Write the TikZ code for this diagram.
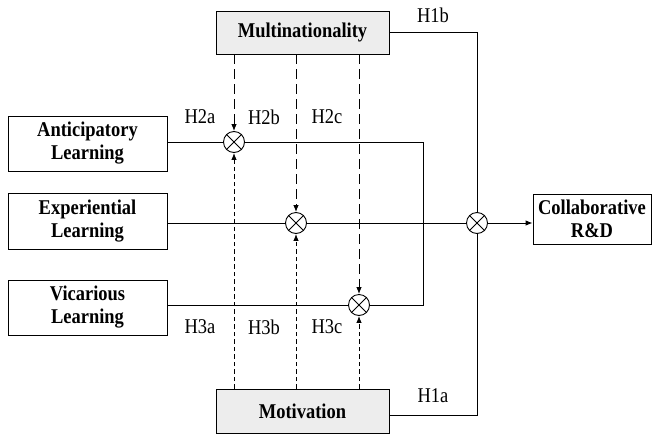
\documentclass[tikz,border=0pt]{standalone}
\usepackage{fontspec}
\setmainfont{Liberation Serif}[FakeStretch=0.88]
\usetikzlibrary{arrows.meta,calc}
\begin{document}
\begin{tikzpicture}[x=1pt,y=-1pt,line width=0.9pt,
  box/.style={draw,line width=0.9pt,align=center,inner sep=0pt,font=\fontsize{21}{23}\selectfont\bfseries},
  graybox/.style={box,fill=black!7},
  mult/.style={draw,circle,line width=0.9pt,minimum size=21pt,inner sep=0pt},
  hlab/.style={font=\fontsize{21}{22}\selectfont,inner sep=0pt},
  upd/.style={dash pattern=on 10pt off 5pt},
  lod/.style={dash pattern=on 4.5pt off 3pt},
  tip/.style={-{Latex[length=7pt,width=5.5pt]}}]
\useasboundingbox (0,0) rectangle (652,434);
% boxes
\node[graybox,minimum width=173pt,minimum height=43pt] (mul) at (302.5,32.5) {Multinationality};
\node[graybox,minimum width=173pt,minimum height=44pt] (mot) at (302.5,411) {Motivation};
\node[box,minimum width=159pt,minimum height=55pt] (ant) at (87.5,143.5) {Anticipatory\\Learning};
\node[box,minimum width=159pt,minimum height=56pt] (exp) at (87.5,221) {Experiential\\Learning};
\node[box,minimum width=159pt,minimum height=55pt] (vic) at (87.5,307.5) {Vicarious\\Learning};
\node[box,minimum width=118pt,minimum height=50pt] (col) at (592,219) {Collaborative\\R\&D};
% multiplication nodes
\node[mult] (c1) at (234,142) {};
\node[mult] (c2) at (296,223) {};
\node[mult] (c3) at (359,305) {};
\node[mult] (c4) at (477,223) {};
\foreach \c in {c1,c2,c3,c4}{
  \draw (\c.45) -- (\c.225) (\c.135) -- (\c.315);
}
% junction coordinates
\coordinate (j1) at (423,142);
\coordinate (j2) at (423,305);
% solid connectors
\draw (c1 -| ant.east) -- (c1.west);
\draw (c1.east) -- (j1) -- (j2) -- (c3.east);
\draw (c3 -| vic.east) -- (c3.west);
\draw (c2 -| exp.east) -- (c2.west);
\draw (c2.east) -- (c4.west);
\draw[tip] (c4.east) -- (c4 -| col.west);
\draw (mul.east) -| (c4.north);
\draw ($(mot.east)+(0,4)$) -| (c4.south);
% dashed moderators from Multinationality
\draw[upd,tip] (c1 |- mul.south) -- (c1.north);
\draw[upd,tip] (c2 |- mul.south) -- (c2.north);
\draw[upd,tip] (c3 |- mul.south) -- (c3.north);
% dashed moderators from Motivation
\draw[lod,tip] (c1 |- mot.north) -- (c1.south);
\draw[lod,tip] (c2 |- mot.north) -- (c2.south);
\draw[lod,tip] (c3 |- mot.north) -- (c3.south);
% labels
\node[hlab] (l1b) at (433,15) {H1b};
\node[hlab] (l1a) at (433,396) {H1a};
\node[hlab] (l2a) at (200,117) {H2a};
\node[hlab] (l2b) at (264,117) {H2b};
\node[hlab] (l2c) at (327,117) {H2c};
\node[hlab] (l3a) at (200,327) {H3a};
\node[hlab] (l3b) at (264,327) {H3b};
\node[hlab] (l3c) at (327,327) {H3c};
\end{tikzpicture}
\end{document}
